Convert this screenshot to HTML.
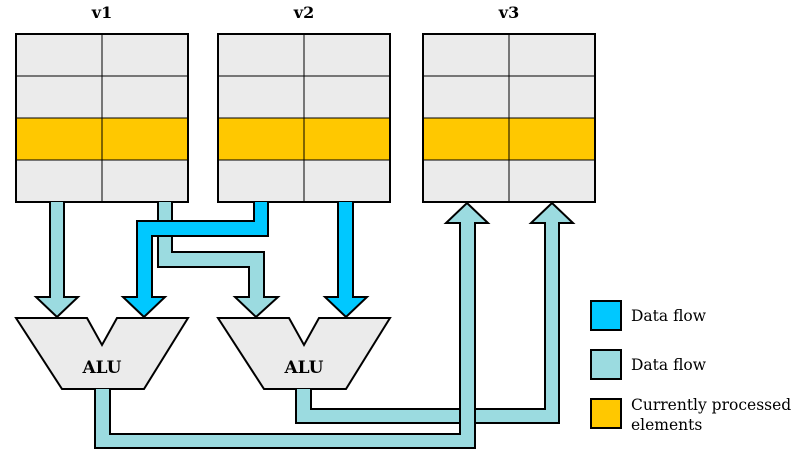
<!DOCTYPE html>
<html><head><meta charset="utf-8"><style>body{margin:0;background:#fff}svg{display:block}text{font-family:"DejaVu Serif","Liberation Serif",serif;fill:#000}</style></head><body>
<svg width="800" height="450" viewBox="0 0 800 450" xmlns="http://www.w3.org/2000/svg">
<defs>
<g id="grid">
<rect x="0" y="0" width="172" height="168" fill="#ebebeb"/>
<rect x="0" y="84" width="172" height="42" fill="#ffc800"/>
<g stroke="#000" stroke-width="1"><line x1="0" y1="42" x2="172" y2="42"/><line x1="0" y1="84" x2="172" y2="84"/><line x1="0" y1="126" x2="172" y2="126"/><line x1="86" y1="0" x2="86" y2="168"/></g>
<rect x="0" y="0" width="172" height="168" fill="none" stroke="#000" stroke-width="2"/>
</g>
</defs>
<g font-size="16" font-weight="bold" text-anchor="middle"><text x="102" y="18">v1</text><text x="304" y="18">v2</text><text x="509" y="18">v3</text></g>
<use href="#grid" x="16" y="34"/><use href="#grid" x="218" y="34"/><use href="#grid" x="423" y="34"/>
<g stroke="#000" stroke-width="2" stroke-linejoin="miter">
<path d="M50 202 V297 H36 L57 317 L78 297 H64 V202" fill="#9bdbe0"/>
<path d="M158 202 V267 H249 V297 H235 L256 317 L278 297 H264 V252 H172 V202" fill="#9bdbe0"/>
<path d="M254 202 V221 H137 V297 H123 L144 317 L165 297 H152 V236 H268 V202" fill="#00c8ff"/>
<path d="M338 202 V297 H325 L346 317 L367 297 H353 V202" fill="#00c8ff"/>
<path d="M16 318 H87 L102 345 L117 318 H188 L144 389 H62 Z" fill="#ebebeb"/>
<path d="M218 318 H289 L304 345 L319 318 H390 L346 389 H264 Z" fill="#ebebeb"/>
<path d="M296 389 V423 H559 V223 H573 L552 203 L531 223 H545 V409 H311 V389" fill="#9bdbe0"/>
<path d="M95 389 V448 H475 V223 H488 L467 203 L446 223 H460 V434 H110 V389" fill="#9bdbe0"/>
<rect x="591" y="301" width="30" height="29" fill="#00c8ff"/>
<rect x="591" y="350" width="30" height="29" fill="#9bdbe0"/>
<rect x="591" y="399" width="30" height="29" fill="#ffc800"/>
</g>
<g font-size="17" font-weight="bold" text-anchor="middle"><text x="102" y="373">ALU</text><text x="304" y="373">ALU</text></g>
<g font-size="15.5"><text x="631" y="321">Data flow</text><text x="631" y="370">Data flow</text><text x="631" y="410">Currently processed</text><text x="631" y="430">elements</text></g>
</svg>
</body></html>
